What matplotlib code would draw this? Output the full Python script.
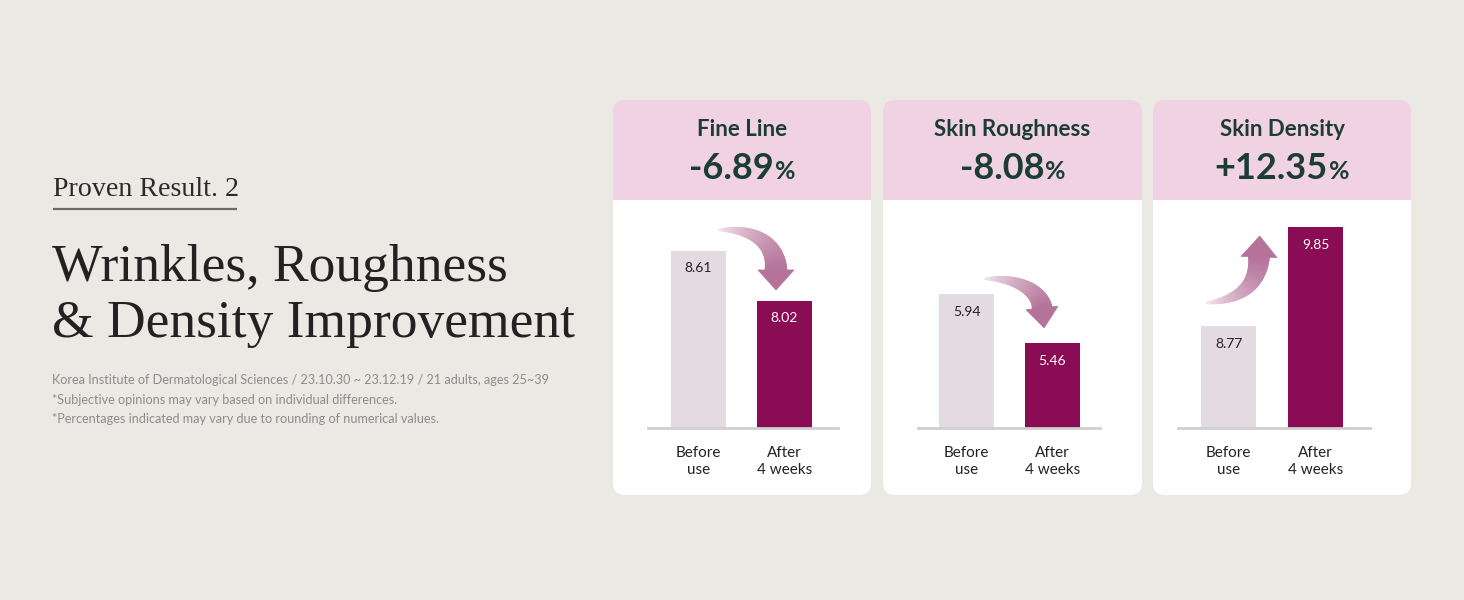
import numpy as np
import matplotlib
matplotlib.use("Agg")
import matplotlib.pyplot as plt
from matplotlib.patches import FancyBboxPatch, Rectangle, Polygon
from matplotlib.colors import to_rgb

# ---------------- data ----------------
metrics = ["Fine Line", "Skin Roughness", "Skin Density"]
changes = ["-6.89", "-8.08", "+12.35"]
before_vals = [8.61, 5.94, 8.77]
after_vals = [8.02, 5.46, 9.85]
before_labels = ["8.61", "5.94", "8.77"]
after_labels = ["8.02", "5.46", "9.85"]
categories = ["Before\nuse", "After\n4 weeks"]

title_small = "Proven Result. 2"
title_lines = ["Wrinkles, Roughness", "& Density Improvement"]
notes = ["Korea Institute of Dermatological Sciences / 23.10.30 ~ 23.12.19 / 21 adults, ages 25~39",
         "*Subjective opinions may vary based on individual differences.",
         "*Percentages indicated may vary due to rounding of numerical values."]

# ---------------- style ----------------
BG = "#EBE9E4"
PINK = "#F0D2E3"
BEFORE_C = "#E4DAE2"
AFTER_C = "#8A0C55"
HEAD_TXT = "#1C3D32"
SANS = ["Lato", "DejaVu Sans"]
SERIF = ["Liberation Serif", "DejaVu Serif"]

W, H = 1464, 600
fig = plt.figure(figsize=(W / 100, H / 100), dpi=100)
fig.patch.set_facecolor(BG)
bg = fig.add_axes([0, 0, 1, 1])
bg.set_xlim(0, W)
bg.set_ylim(H, 0)
bg.axis("off")
renderer = fig.canvas.get_renderer()

# ---------------- left text ----------------
bg.text(53, 196, title_small, fontsize=20.2, family=SERIF, color="#2a2a2a", va="baseline", ha="left")
bg.plot([53, 237], [209, 209], color="#6b6b6b", lw=1.6, solid_capstyle="butt")
for i, line in enumerate(title_lines):
    bg.text(52, 281 + 56 * i, line, fontsize=38.5, family=SERIF, color="#222222", va="baseline", ha="left")
for i, line in enumerate(notes):
    bg.text(52, 384 + 19.5 * i, line, fontsize=9.1, family=SANS, color="#8c8c8c", va="baseline", ha="left")

# ---------------- cards ----------------
cards = [(613, 871), (883, 1142), (1153, 1411)]
card_top, head_bot, card_bot = 100, 200, 495
rad = 12
for (l, r) in cards:
    bg.add_patch(FancyBboxPatch((l, card_top), r - l, card_bot - card_top,
                                boxstyle=f"round,pad=0,rounding_size={rad}", fc=PINK, ec="none"))
    bg.add_patch(FancyBboxPatch((l, head_bot), r - l, card_bot - head_bot,
                                boxstyle=f"round,pad=0,rounding_size={rad}", fc="white", ec="none"))
    bg.add_patch(Rectangle((l, head_bot), r - l, rad + 2, fc="white", ec="none"))

# header texts
for k, (l, r) in enumerate(cards):
    cx = (l + r) / 2
    bg.text(cx, 136, metrics[k], fontsize=16, family=SANS, weight="bold", color=HEAD_TXT,
            ha="center", va="baseline")
    t1 = bg.text(0, 179, changes[k], fontsize=26, family=SANS, weight="bold", color=HEAD_TXT,
                 ha="left", va="baseline")
    t2 = bg.text(0, 179, "%", fontsize=18, family=SANS, weight="bold", color=HEAD_TXT,
                 ha="left", va="baseline")
    w1 = t1.get_window_extent(renderer).width
    w2 = t2.get_window_extent(renderer).width
    gap = 1
    x0 = cx - (w1 + gap + w2) / 2
    t1.set_x(x0)
    t2.set_x(x0 + w1 + gap)

# ---------------- bar charts ----------------
axes_px = [(648, 838, 698.5, 784.5), (918, 1100, 966.5, 1052.5), (1178, 1370, 1228.5, 1315.5)]
ylims = [(6.52, 9.21), (4.63, 6.865), (7.66, 10.146)]
ax_top, ax_bot = 200, 428
for k, (l, r, c0, c1) in enumerate(axes_px):
    ax = fig.add_axes([l / W, 1 - ax_bot / H, (r - l) / W, (ax_bot - ax_top) / H])
    ax.patch.set_alpha(0)
    d = c1 - c0
    ax.set_xlim((l - c0) / d, (r - c0) / d)
    base = ylims[k][0]
    ax.set_ylim(*ylims[k])
    vals = [before_vals[k], after_vals[k]]
    labs = [before_labels[k], after_labels[k]]
    ax.bar([0, 1], [v - base for v in vals], bottom=base, width=55 / d,
           color=[BEFORE_C, AFTER_C], zorder=2)
    for i, v in enumerate(vals):
        ax.annotate(labs[i], xy=(i, v), xytext=(0, -12.5), textcoords="offset points",
                    ha="center", va="center", fontsize=10, family=SANS,
                    color="#222222" if i == 0 else "white")
    for s in ["top", "right", "left"]:
        ax.spines[s].set_visible(False)
    ax.spines["bottom"].set_color("#CFCFCF")
    ax.spines["bottom"].set_linewidth(2)
    ax.set_yticks([])
    ax.set_xticks([0, 1])
    ax.set_xticklabels(categories, fontsize=11, family=SANS, color="#222222", linespacing=1.3)
    ax.tick_params(axis="x", length=0, pad=13)

# ---------------- gradient arrows ----------------
ov = fig.add_axes([0, 0, 1, 1])
ov.set_xlim(0, W)
ov.set_ylim(H, 0)
ov.axis("off")
ov.patch.set_alpha(0)

c_start = np.array(to_rgb("#FAF2F6"))
c_end = np.array(to_rgb("#B5739A"))


def bez(p, t):
    p0, p1, p2, p3 = [np.array(q, float) for q in p]
    t = t[:, None]
    pts = (1 - t) ** 3 * p0 + 3 * (1 - t) ** 2 * t * p1 + 3 * (1 - t) * t ** 2 * p2 + t ** 3 * p3
    der = 3 * (1 - t) ** 2 * (p1 - p0) + 6 * (1 - t) * t * (p2 - p1) + 3 * t ** 2 * (p3 - p2)
    return pts, der


def grad_arrow(p, w_end, head_w, head_len, n=60):
    t = np.linspace(0, 1, n)
    pts, der = bez(p, t)
    tang = der / np.linalg.norm(der, axis=1)[:, None]
    nrm = np.stack([-tang[:, 1], tang[:, 0]], axis=1)
    w = 1 + (w_end - 1) * t ** 0.8
    left = pts + nrm * (w[:, None] / 2)
    right = pts - nrm * (w[:, None] / 2)
    for i in range(n - 1):
        f = (t[i] + t[i + 1]) / 2
        col = c_start + (c_end - c_start) * f ** 0.6
        poly = [left[i], left[i + 1], right[i + 1], right[i]]
        ov.add_patch(Polygon(poly, closed=True, fc=col, ec=col, lw=0.6))
    e = pts[-1]
    tg = tang[-1]
    nm = nrm[-1]
    head = [e + nm * head_w / 2, e + tg * head_len, e - nm * head_w / 2]
    ov.add_patch(Polygon(head, closed=True, fc=c_end, ec=c_end, lw=0.5))


grad_arrow([(718, 230), (752, 228), (776, 242), (776, 270)], 22, 36, 20)
grad_arrow([(984, 279), (1015, 277), (1040, 290), (1042, 308)], 20, 32, 20)
grad_arrow([(1206, 303), (1240, 300), (1258, 285), (1259, 257)], 21, 36, 21)

fig.savefig("out.png", dpi=100, facecolor=BG)
